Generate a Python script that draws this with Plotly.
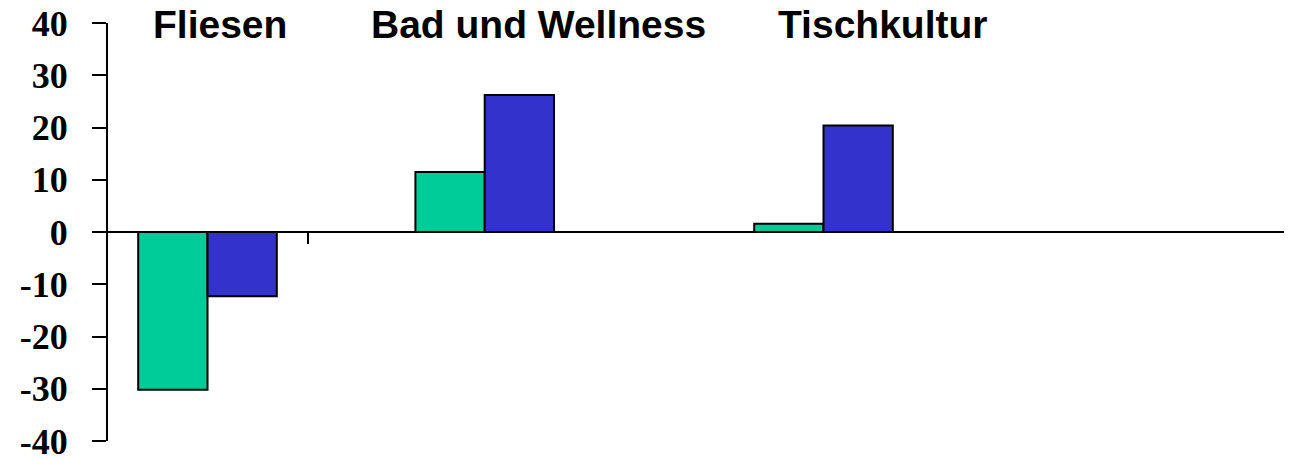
import plotly.graph_objects as go

# ---- data ----
categories = ["Fliesen", "Bad und Wellness", "Tischkultur"]
green_values = [-30.2, 11.5, 1.6]
blue_values = [-12.3, 26.2, 20.4]
y_tick_vals = [40, 30, 20, 10, 0, -10, -20, -30, -40]
y_tick_text = ["40", "30", "20", "10", "0", "-10", "-20", "-30", "-40"]

GREEN = "#00CC99"
BLUE = "#3333CC"

# category slots (layout): groups are not evenly spaced in the reference
slot_of_category = [0, 9, 20]
n_slots = 21
category_array = [f"\u200b{'_' * i}" for i in range(n_slots)]
for cat, s in zip(categories, slot_of_category):
    category_array[s] = cat

bar_w = 2.25

fig = go.Figure()
fig.add_trace(go.Bar(
    x=categories, y=green_values, name="A",
    marker=dict(color=GREEN, line=dict(color="black", width=2)),
    width=bar_w, offset=-bar_w,
))
fig.add_trace(go.Bar(
    x=categories, y=blue_values, name="B",
    marker=dict(color=BLUE, line=dict(color="black", width=2)),
    width=bar_w, offset=0,
))

# page body has an 8px margin; compensate so the plot lands where the reference has it
BODY = 8
PLOT_L, PLOT_W = 108, 1184

def px_to_paper(px):
    return (px - PLOT_L) / PLOT_W

label_centers_px = [220, 538, 883]
annotations = []
for cat, cx in zip(categories, label_centers_px):
    annotations.append(dict(
        text=cat, x=px_to_paper(cx), xref="paper", y=0.997, yref="paper",
        xanchor="center", yanchor="middle", showarrow=False,
        font=dict(family="Liberation Sans", size=39, color="black", weight="bold"),
    ))

fig.update_layout(
    width=1292 - BODY, height=459 - BODY,
    margin=dict(l=108 - BODY, r=0, t=23 - BODY, b=18, pad=0, autoexpand=False),
    paper_bgcolor="white", plot_bgcolor="white",
    showlegend=False,
    barmode="overlay",
    annotations=annotations,
    shapes=[dict(type="line", xref="paper", yref="y",
                 x0=px_to_paper(308), x1=px_to_paper(308), y0=0, y1=-2.3,
                 line=dict(color="black", width=2))],
    xaxis=dict(
        type="category", categoryorder="array", categoryarray=category_array,
        range=[-3.231, 35.211], showticklabels=False, ticks="",
        showline=False, showgrid=False, zeroline=False, automargin=False,
    ),
    yaxis=dict(
        range=[-40, 40], tickvals=y_tick_vals, ticktext=y_tick_text,
        ticks="outside", ticklen=14, tickwidth=2, tickcolor="black",
        showline=True, linecolor="black", linewidth=2,
        showgrid=False, zeroline=True, zerolinecolor="black", zerolinewidth=2,
        ticklabelstandoff=17, ticklabeloverflow="allow", automargin=False,
        tickfont=dict(family="Liberation Serif", size=36, color="black", weight="bold"),
    ),
)

fig.write_html("out.html")
